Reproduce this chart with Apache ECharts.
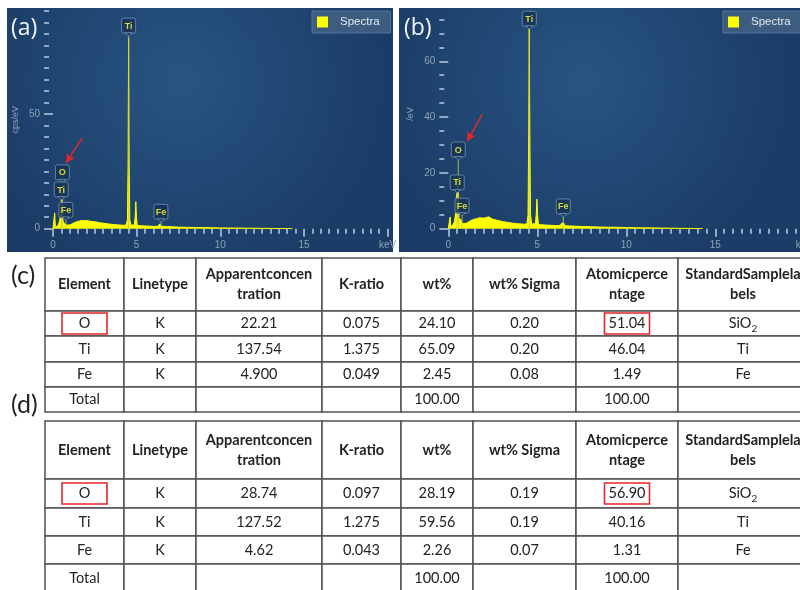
<!DOCTYPE html>
<html>
<head>
<meta charset="utf-8">
<script src="https://cdn.jsdelivr.net/npm/echarts@6/dist/echarts.min.js"></script>
<style>
html,body{margin:0;padding:0;background:#ffffff;}
#chart{width:800px;height:590px;}
</style>
</head>
<body>
<div id="chart"></div>
<script>
// ---- EDS spectra: [energy keV, counts cps/eV] ----
const spectrumA = [
  [0,0],[0.06,0.3],[0.1,6.8],[0.14,0.8],[0.2,0.8],[0.28,1.2],[0.36,2.5],[0.42,4.5],[0.45,7.5],[0.48,8.5],
  [0.51,11],[0.53,12.6],[0.56,9],[0.6,3.5],[0.66,2.3],[0.7,3.0],[0.74,2.4],[0.8,1.6],[0.9,1.4],[1.0,1.6],
  [1.15,2.2],[1.3,2.7],[1.45,3.1],[1.6,3.4],[1.75,3.6],[1.9,3.5],[2.05,3.6],[2.2,3.3],[2.4,3.1],[2.6,2.9],
  [2.8,2.6],[3.0,2.4],[3.2,2.2],[3.4,2.0],[3.6,1.8],[3.8,1.7],[4.0,1.6],[4.2,1.5],[4.38,1.6],[4.45,4],
  [4.49,30],[4.52,83],[4.55,30],[4.59,4],[4.65,1.6],[4.75,1.4],[4.86,1.6],[4.91,5],[4.95,11.8],[4.99,5],
  [5.03,1.5],[5.2,1.3],[5.5,1.2],[5.8,1.1],[6.1,1.0],[6.3,1.1],[6.36,2.0],[6.41,2.4],[6.46,2.0],[6.52,1.0],
  [6.8,0.9],[7.0,0.9],[7.06,1.1],[7.12,0.8],[7.5,0.7],[8.0,0.6],[8.5,0.5],[9.0,0.5],[9.5,0.4],[10.0,0.35],
  [10.5,0.3],[11.0,0.28],[11.5,0.25],[12.0,0.2],[12.5,0.15],[13.0,0.12],[13.5,0.08],[14.0,0.05],[14.3,0]
];
const spectrumB = [
  [0,0],[0.06,0.3],[0.1,4.2],[0.14,0.8],[0.2,0.8],[0.28,1.5],[0.36,3],[0.42,6],[0.45,11],[0.48,12.5],
  [0.51,15],[0.53,17.5],[0.56,12],[0.6,4],[0.66,2.4],[0.7,3.4],[0.74,2.6],[0.8,1.8],[0.9,1.6],[1.0,1.9],
  [1.15,2.5],[1.3,3.0],[1.45,3.4],[1.6,3.6],[1.75,3.9],[1.85,4.2],[1.95,3.8],[2.1,3.9],[2.25,4.3],[2.35,3.9],
  [2.5,3.4],[2.7,3.1],[2.9,2.8],[3.1,2.5],[3.3,2.3],[3.5,2.1],[3.7,1.9],[3.9,1.8],[4.1,1.7],[4.3,1.6],
  [4.42,1.8],[4.48,5],[4.52,35],[4.55,73],[4.58,35],[4.62,5],[4.68,1.7],[4.78,1.5],[4.89,1.8],[4.94,5],
  [4.98,10.6],[5.02,5],[5.06,1.6],[5.2,1.4],[5.5,1.3],[5.8,1.2],[6.1,1.1],[6.3,1.2],[6.37,2.0],[6.43,2.6],
  [6.49,2.0],[6.55,1.1],[6.8,1.0],[7.0,0.95],[7.06,1.2],[7.12,0.9],[7.5,0.8],[8.0,0.7],[8.5,0.6],[9.0,0.55],
  [9.5,0.5],[10.0,0.4],[10.5,0.35],[11.0,0.3],[11.5,0.28],[12.0,0.22],[12.5,0.18],[13.0,0.14],[13.5,0.1],
  [14.0,0.06],[14.3,0]
];

// element line markers: [element, energy keV, cps at the marker tip]
const markersA = [['Ti',4.52,84],['O',0.56,20],['Ti',0.49,12.5],['Fe',0.77,3.6],['Fe',6.45,2.8]];
const markersB = [['Ti',4.55,71.5],['O',0.56,24.6],['Ti',0.5,12.8],['Fe',0.77,4.5],['Fe',6.46,4.2]];

// red annotation arrows (tail, head) in keV / cps
const arrowA = [[1.74,39.6],[0.78,28.7]];
const arrowB = [[1.9,41],[1.07,31.4]];

// tick labels
const xTickLabelsKeV = [0,5,10,15];
const yTicksA = [0,50];
const yTicksB = [0,20,40,60];

// ---- quantification tables ----
const headers = ['Element','Linetype','Apparentconcen\ntration','K-ratio','wt%','wt% Sigma','Atomicperce\nntage','StandardSamplela\nbels'];
const elements = ['O','Ti','Fe'];
const lineTypes = ['K','K','K'];
const standards = ['SiO2','Ti','Fe'];

const apparentC = ['22.21','137.54','4.900'];
const kRatioC   = ['0.075','1.375','0.049'];
const wtC       = ['24.10','65.09','2.45'];
const wtSigmaC  = ['0.20','0.20','0.08'];
const atomicC   = ['51.04','46.04','1.49'];
const totalsC   = ['100.00','100.00'];

const apparentD = ['28.74','127.52','4.62'];
const kRatioD   = ['0.097','1.275','0.043'];
const wtD       = ['28.19','59.56','2.26'];
const wtSigmaD  = ['0.19','0.19','0.07'];
const atomicD   = ['56.90','40.16','1.31'];
const totalsD   = ['100.00','100.00'];

// table layout (pixel widths/heights)
const COL_W = [79,72,126,79,72,103,102,130];
const ROW_H_C = [53,25,26,25,25];
const ROW_H_D = [58,29,28,28,28];
const cum = a => a.reduce((acc,v,i)=>{acc.push(i?acc[i-1]+a[i-1]:0);return acc;},[]);
const COL_START = cum(COL_W);
const sum = a => a.reduce((s,v)=>s+v,0);

function buildCells(apparent,kRatio,wt,wtSigma,atomic,totals){
  const cells = [];
  headers.forEach((h,c)=>cells.push({col:c,row:0,text:h,head:true}));
  for(let i=0;i<elements.length;i++){
    const row = [elements[i],lineTypes[i],apparent[i],kRatio[i],wt[i],wtSigma[i],atomic[i],standards[i]];
    row.forEach((t,c)=>cells.push({col:c,row:i+1,text:t,hl:(i===0&&(c===0||c===6))}));
  }
  ['Total','','','',totals[0],'',totals[1],''].forEach((t,c)=>cells.push({col:c,row:4,text:t}));
  return cells;
}
const cellsC = buildCells(apparentC,kRatioC,wtC,wtSigmaC,atomicC,totalsC);
const cellsD = buildCells(apparentD,kRatioD,wtD,wtSigmaD,atomicD,totalsD);

const TICK = '#93a8be';
const LABEL = '#8ea3b9';
const YEL = '#ffff00';
const INK = '#232323';

function tableSeries(cells,rowH,xi,yi){
  const rowStart = cum(rowH);
  return {
    type:'custom', xAxisIndex:xi, yAxisIndex:yi, silent:true, z:2,
    data: cells.map(c=>[COL_START[c.col], rowStart[c.row]]),
    renderItem(params, api){
      const c = cells[params.dataIndex];
      const x0 = COL_START[c.col], y0 = rowStart[c.row];
      const p0 = api.coord([x0,y0]);
      const p1 = api.coord([x0+COL_W[c.col], y0+rowH[c.row]]);
      const cx = (p0[0]+p1[0])/2, cy = (p0[1]+p1[1])/2;
      const ch = [{type:'rect', shape:{x:p0[0],y:p0[1],width:p1[0]-p0[0],height:p1[1]-p0[1]},
                   style:{fill:'#ffffff',stroke:'#525252',lineWidth:1.5}}];
      if(c.text==='SiO2'){
        ch.push({type:'text', style:{text:'{a|SiO}{s|2}', x:cx, y:cy, align:'center', verticalAlign:'middle',
          rich:{a:{fontSize:14.5,fontFamily:'Lato',fill:INK,lineHeight:20},
                s:{fontSize:10,fontFamily:'Lato',fill:INK,lineHeight:10,verticalAlign:'bottom'}}}});
      } else if(c.text){
        ch.push({type:'text', style:{text:c.text, x:cx, y:cy, align:'center', verticalAlign:'middle',
          font:(c.head?'bold ':'')+'14.5px Lato', fill:INK, lineHeight:20}});
      }
      if(c.hl){
        ch.push({type:'rect', shape:{x:cx-22.5,y:cy-10.5,width:45,height:21},
          style:{fill:'none',stroke:'#e8262a',lineWidth:1.6}});
      }
      return {type:'group', children:ch};
    }
  };
}

function markerSeries(markers,xi,yi){
  return {
    type:'custom', xAxisIndex:xi, yAxisIndex:yi, silent:true, z:6,
    data: markers.map(m=>[m[1],m[2]]),
    renderItem(params, api){
      const m = markers[params.dataIndex];
      const tip = api.coord([m[1],m[2]]);
      const base = api.coord([m[1],0]);
      const w = 14, h = 15, gap = 3;
      const top = tip[1]-gap-h;
      return {type:'group', children:[
        {type:'line', shape:{x1:tip[0],y1:tip[1],x2:base[0],y2:base[1]}, style:{stroke:'rgba(196,202,70,0.85)',lineWidth:1}},
        {type:'rect', shape:{x:tip[0]-w/2,y:top,width:w,height:h,r:2}, style:{fill:'rgba(24,52,86,0.88)',stroke:'#6583a2',lineWidth:1}},
        {type:'polygon', shape:{points:[[tip[0]-3.5,tip[1]-gap-0.5],[tip[0]+3.5,tip[1]-gap-0.5],[tip[0],tip[1]]]}, style:{fill:'#1b3759',stroke:'#6583a2',lineWidth:1}},
        {type:'text', style:{text:m[0],x:tip[0],y:top+h/2+0.5,align:'center',verticalAlign:'middle',font:'bold 9px "Liberation Sans"',fill:'#d8d83c'}}
      ]};
    }
  };
}

function spectrumSeries(data,arrow,xi,yi){
  return {
    name:'Spectra', type:'line', xAxisIndex:xi, yAxisIndex:yi, data:data,
    symbol:'none', z:3,
    lineStyle:{color:YEL,width:1}, itemStyle:{color:YEL}, areaStyle:{color:YEL,opacity:1},
    markLine:{silent:true, symbol:['none','arrow'], symbolSize:[7,9], label:{show:false},
      lineStyle:{color:'#e8262a',width:1.5,type:'solid'},
      data:[[{coord:arrow[0]},{coord:arrow[1]}]]}
  };
}

function xAxisSpec(gi){
  return {gridIndex:gi, type:'value', min:0, max:20, interval:5, position:'bottom',
    axisLine:{show:false}, splitLine:{show:false},
    axisTick:{show:true,length:8,lineStyle:{color:TICK,width:2}},
    minorTick:{show:true,splitNumber:10,length:5,lineStyle:{color:TICK,width:2}},
    axisLabel:{color:LABEL,fontSize:10,fontFamily:'Liberation Sans',margin:12,
      customValues:xTickLabelsKeV.concat([20]), formatter:v=>v===20?'keV':String(v)}};
}
function yMainSpec(gi,max,ticks,name,namePad){
  return {gridIndex:gi, type:'value', min:0, max:max, position:'left', offset:4,
    axisLine:{show:false}, splitLine:{show:false},
    axisTick:{show:true,length:7,customValues:ticks,lineStyle:{color:TICK,width:2}},
    axisLabel:{color:LABEL,fontSize:10,fontFamily:'Liberation Sans',margin:9,customValues:ticks},
    name:name, nameLocation:'middle', nameGap:29, nameRotate:90,
    nameTextStyle:{color:LABEL,fontSize:9,fontFamily:'Liberation Sans',padding:namePad}};
}
function yMinorSpec(gi,max){
  return {gridIndex:gi, type:'value', min:0, max:max, interval:5, position:'left', offset:4,
    axisLine:{show:false}, splitLine:{show:false}, axisLabel:{show:false},
    axisTick:{show:true,length:5,lineStyle:{color:TICK,width:2}}};
}

const panelFill = () => new echarts.graphic.RadialGradient(0.45,0.3,0.85,[
  {offset:0,color:'#285483'},{offset:1,color:'#1b3c66'}]);

const chart = echarts.init(document.getElementById('chart'), null, {renderer:'canvas'});
chart.setOption({
  animation:false,
  backgroundColor:'#ffffff',
  grid:[
    {left:53, top:10.9, width:334.6, height:217.8, outerBoundsMode:'none'},
    {left:448.3, top:19.4, width:356, height:209.3, outerBoundsMode:'none'},
    {left:45, top:258, width:sum(COL_W), height:sum(ROW_H_C), outerBoundsMode:'none'},
    {left:45, top:421, width:sum(COL_W), height:sum(ROW_H_D), outerBoundsMode:'none'}
  ],
  xAxis:[
    xAxisSpec(0), xAxisSpec(1),
    {gridIndex:2,type:'value',min:0,max:sum(COL_W),show:false},
    {gridIndex:3,type:'value',min:0,max:sum(COL_W),show:false}
  ],
  yAxis:[
    yMainSpec(0,95,yTicksA,'cps/eV',[0,0,0,0]), yMinorSpec(0,95),
    yMainSpec(1,75,yTicksB,'/eV',[0,0,0,20]), yMinorSpec(1,75),
    {gridIndex:2,type:'value',min:0,max:sum(ROW_H_C),inverse:true,show:false},
    {gridIndex:3,type:'value',min:0,max:sum(ROW_H_D),inverse:true,show:false}
  ],
  legend:[
    {data:['Spectra'], left:312, top:11, selectedMode:false, icon:'rect', itemWidth:11, itemHeight:11,
     padding:[5,11,5,5], backgroundColor:'#3c5c80', borderColor:'#52729a', borderWidth:1,
     textStyle:{color:'#e3e9ef',fontSize:11.5,fontFamily:'Liberation Sans',padding:[0,0,0,7]}},
    {data:['Spectra'], left:723, top:11, selectedMode:false, icon:'rect', itemWidth:11, itemHeight:11,
     padding:[5,11,5,5], backgroundColor:'#3c5c80', borderColor:'#52729a', borderWidth:1,
     textStyle:{color:'#e3e9ef',fontSize:11.5,fontFamily:'Liberation Sans',padding:[0,0,0,7]}}
  ],
  graphic:[
    {type:'rect', z:-10, silent:true, shape:{x:7,y:8,width:386,height:244}, style:{fill:panelFill()}},
    {type:'rect', z:-10, silent:true, shape:{x:399,y:8,width:410,height:244}, style:{fill:panelFill()}},
    {type:'text', z:100, silent:true, style:{text:'(a)',x:11,y:28,verticalAlign:'middle',font:'23px "Open Sans"',fill:'#f2f5f8'}},
    {type:'text', z:100, silent:true, style:{text:'(b)',x:404,y:28,verticalAlign:'middle',font:'23px "Open Sans"',fill:'#f2f5f8'}},
    {type:'text', z:100, silent:true, style:{text:'(c)',x:11,y:276,verticalAlign:'middle',font:'25px Lato',fill:'#222222'}},
    {type:'text', z:100, silent:true, style:{text:'(d)',x:11,y:405,verticalAlign:'middle',font:'25px Lato',fill:'#222222'}}
  ],
  series:[
    spectrumSeries(spectrumA,arrowA,0,0),
    markerSeries(markersA,0,0),
    spectrumSeries(spectrumB,arrowB,1,2),
    markerSeries(markersB,1,2),
    tableSeries(cellsC,ROW_H_C,2,4),
    tableSeries(cellsD,ROW_H_D,3,5)
  ]
});
</script>
</body>
</html>
